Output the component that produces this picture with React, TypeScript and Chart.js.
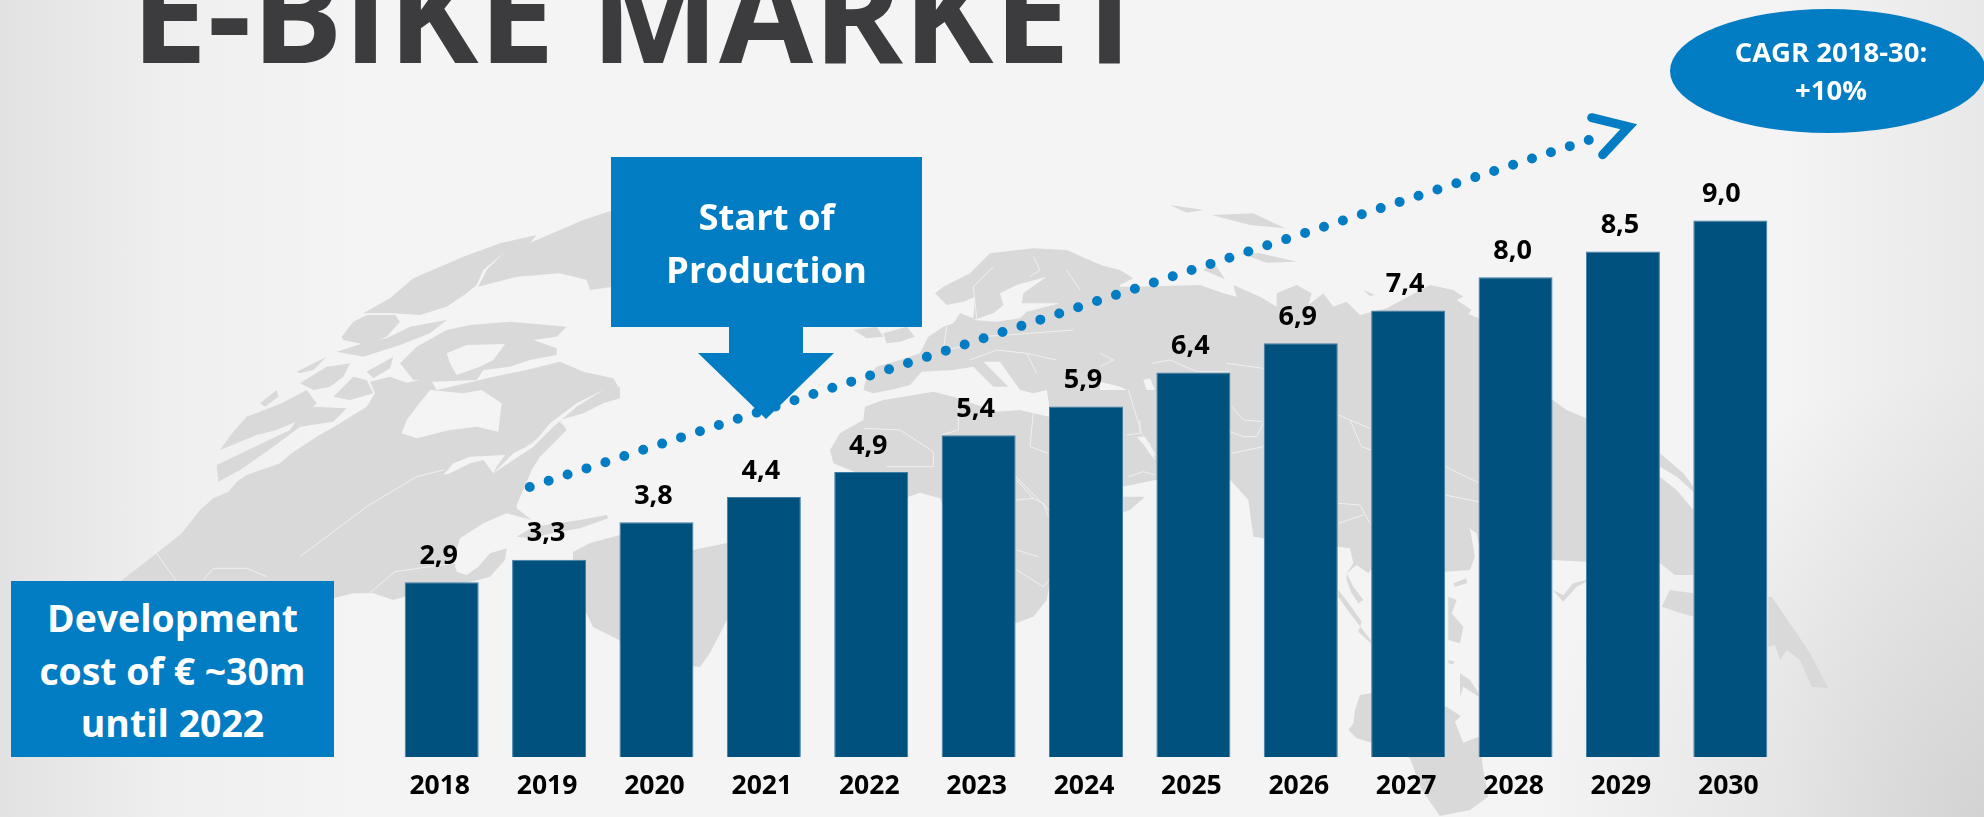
import React, { useEffect, useRef } from "react";
import { Chart, registerables } from "chart.js";

Chart.register(...registerables);

const years = ["2018","2019","2020","2021","2022","2023","2024","2025","2026","2027","2028","2029","2030"];
// Printed labels, and the bar heights as they are actually drawn in the picture.
const valueLabels = ["2,9","3,3","3,8","4,4","4,9","5,4","5,9","6,4","6,9","7,4","8,0","8,5","9,0"];
const barHeights = [2.93,3.31,3.94,4.36,4.78,5.40,5.88,6.45,6.94,7.49,8.05,8.48,9.0];
const trendLine = [{ x: 0.82, y: 4.53 }, { x: 10.83, y: 10.44 }];
const FONT = '"Open Sans", sans-serif';
const BLUE = "#027cc2";
const BAR = "#00517e";
const LAND = "#d9d9d9";
const SEA = "#f4f4f4";

type P = number[];
const z = (ox: number, oy: number, a: P[]) => a.map(([x, y]) => [ox + x / 3, oy + y / 3]);
const Z4 = (a: P[]) => z(100, 190, a);
const Z5 = (a: P[]) => z(600, 190, a);
const Z6 = (a: P[]) => z(1100, 190, a);
const Z7 = (a: P[]) => z(1400, 420, a);
const Z8 = (a: P[]) => z(700, 420, a);
const Z9 = (a: P[]) => z(100, 500, a);
const Z10 = (a: P[]) => z(1120, 480, a);

const oldWorld = [
  ...Z5([[790,600],[800,560],[830,530],[900,510],[960,490],[985,440],[1030,410],[1060,400],[1080,370],[1120,385],[1125,320],[1090,335],[1040,345],[1005,310],[1030,290],[1110,250],[1170,190],[1300,175],[1400,180],[1480,215],[1560,250]]),
  ...Z6([[60,290],[110,290],[300,285],[370,310],[410,320],[400,285],[480,320],[530,350],[530,310],[590,285],[635,310],[625,345],[670,310],[700,350],[740,335],[780,375],[860,355],[990,285],[1060,300],[1090,320],[1070,330],[1115,360],[1105,372],[1136,385],[1200,500],[1358,630],[1400,660],[1458,685]]),
  ...Z7([[780,170],[830,210],[880,270],[880,465],[825,465],[780,430],[558,425],[458,420]]),
  ...Z10([[1076,190],[1050,145],[1065,230],[1050,270],[975,275],[860,300],[752,270],[745,280],[710,255],[680,280],[700,250],[690,205],[655,200],[540,250],[430,175],[400,170],[385,60],[331,0]]),
  ...Z8([[1365,180],[1268,200],[1150,400],[1047,500],[1040,540],[1000,590],[947,610],[850,500],[720,235],[660,218],[625,230],[500,170],[400,130],[390,90],[420,40],[490,0]]),
  ...Z5([[795,650],[850,630],[1000,605],[1060,620],[1190,665],[1260,660],[1347,680],[1347,640],[1340,600],[1300,610],[1260,600],[1200,515],[1150,515],[1225,590],[1180,590],[1120,530],[1060,540],[965,545],[930,585],[870,600],[820,610]]),
];

const northAmerica = [
  ...Z4([[-200,1400],[60,1175],[170,1090],[245,1030],[300,960],[340,925],[385,905],[410,875],[440,855],[540,820],[575,790],[650,740],[720,700],[800,650],[825,610],[810,575],[870,560],[920,578],[990,565],[1010,600],[1140,570],[1180,560],[1280,540],[1380,515],[1450,545],[1540,565],[1555,590],[1510,640],[1450,670],[1380,690],[1400,720],[1320,800],[1295,840],[1250,945]]),
  ...Z9([[1250,25],[1295,60],[1220,40],[1150,70],[1080,115],[1060,180],[1070,215],[1100,225],[1135,200],[1170,160],[1220,145],[1215,180],[1170,230],[1135,240],[913,290],[880,300],[820,280],[760,280],[700,295],[500,300]]),
];

const otherLand = [
  // Greenland
  Z4([[1135,290],[1250,260],[1380,250],[1460,270],[1470,300],[1540,290],[1540,60],[1450,90],[1310,150],[1210,190],[1160,240]]),
  // Arctic islands
  Z4([[790,370],[870,325],[940,265],[1090,200],[1200,160],[1310,135],[1280,170],[1210,190],[1150,240],[1130,285],[1100,310],[1040,350],[960,375],[880,370]]),
  Z4([[900,520],[950,470],[1040,420],[1110,405],[1230,395],[1400,410],[1370,440],[1300,450],[1370,475],[1370,495],[1290,510],[1230,530],[1150,540],[1130,570],[1000,575],[940,570]]),
  Z4([[725,440],[760,395],[800,375],[885,375],[900,395],[860,440],[800,465],[730,450]]),
  Z4([[710,485],[790,460],[860,445],[930,410],[1040,390],[990,430],[900,465],[790,500]]),
  Z4([[800,545],[880,500],[870,535],[820,565]]),
  Z4([[590,545],[680,500],[640,540],[600,550]]),
  Z4([[600,580],[680,530],[750,520],[730,560],[690,590],[640,600]]),
  Z4([[700,620],[760,560],[800,570],[820,610],[750,630]]),
  Z4([[480,640],[530,600],[535,620],[495,650]]),
  Z4([[360,780],[400,725],[440,680],[545,640],[620,600],[650,640],[600,690],[530,720],[470,735]]),
  Z4([[350,825],[455,775],[570,720],[590,690],[640,650],[740,655],[700,695],[600,710],[520,770],[420,840],[355,875]]),
  // Newfoundland and isles
  Z4([[1510,640],[1530,600],[1560,590],[1560,625]]),
  Z9([[1250,110],[1300,80],[1440,60],[1520,45],[1525,55],[1440,85],[1380,95],[1290,115]]),
  // South America
  [[573,552],[590,543],[620,535],[693,550],[727,543],[727,620],[710,653],[700,667],[640,660],[619,640],[593,627],[580,600],[573,575]],
  // British Isles
  Z5([[760,420],[830,410],[850,440],[800,445]]),
  Z5([[850,430],[920,410],[945,440],[900,455],[860,460]]),
  // Arctic Eurasia
  Z6([[0,225],[60,240],[100,265],[60,285],[0,260]]),
  Z6([[310,240],[340,215],[375,268],[345,255]]),
  Z6([[420,190],[480,190],[590,215],[500,218]]),
  Z6([[210,45],[310,60],[260,68]]),
  Z6([[335,75],[460,70],[555,115],[450,105]]),
  Z6([[790,300],[825,315],[810,318]]),
  // Madagascar-like and Pacific isles
  Z10([[0,50],[75,50],[30,90],[0,100]]),
  Z10([[752,640],[720,645],[705,690],[700,730],[685,750],[710,775],[800,800],[870,835],[905,930],[960,1008],[1050,990],[1105,950],[1090,870],[1076,770],[1030,788],[1005,725],[1022,708],[980,680],[850,640]]),
  Z10([[655,330],[690,375],[725,425],[715,455],[752,490],[752,480],[690,400],[655,350]]),
  Z10([[680,280],[700,320],[730,360],[715,370],[695,340],[680,300]]),
  Z10([[1000,310],[1040,295],[1040,310],[1005,320]]),
  Z10([[985,350],[1010,360],[995,400],[1030,440],[1020,490],[985,480],[985,430]]),
  Z10([[985,540],[1005,545],[1000,553],[985,550]]),
  Z10([[1020,580],[1050,600],[1076,640],[1076,650],[1030,620],[1020,650]]),
  Z7([[458,510],[490,545],[530,500],[558,485],[558,480],[520,490],[490,525]]),
  Z7([[785,560],[810,510],[880,520],[880,590],[830,575]]),
  Z7([[780,100],[850,160],[880,200],[880,215],[830,170],[780,140]]),
  Z7([[1105,530],[1115,530],[1190,640],[1230,700],[1285,805],[1235,800],[1200,720],[1160,690],[1140,720],[1125,675],[1105,680]]),
];

const waters = [
  Z4([[905,730],[920,690],[950,650],[990,600],[1090,610],[1145,600],[1205,640],[1195,725],[1130,710],[1050,720],[950,745]]),
  Z4([[1030,855],[1060,820],[1110,800],[1215,795],[1190,830],[1180,850],[1150,810],[1110,820],[1050,850]]),
  Z4([[1180,850],[1240,790],[1300,760],[1350,700],[1430,640],[1510,600],[1430,650],[1360,710],[1300,770],[1240,810]]),
  Z4([[1040,490],[1100,465],[1215,462],[1180,510],[1140,530],[1070,555],[1050,520]]),
  Z5([[1120,390],[1180,370],[1210,345],[1200,310],[1250,285],[1340,260],[1270,310],[1265,340],[1380,340],[1280,365],[1260,385],[1190,395]]),
  Z6([[0,575],[60,590],[80,600],[0,600]]),
  Z6([[130,570],[150,565],[165,600],[140,600]]),
  Z8([[1320,50],[1350,70],[1365,120],[1345,95]]),
  Z6([[110,740],[135,740],[170,800],[150,785]]),
  Z6([[1108,1015],[1130,1030],[1136,1060],[1120,1050]]),
];

const borders = [
  Z4([[170,1090],[230,1175]]), Z4([[600,1100],[800,950],[950,860],[1030,840]]),
  Z4([[1280,770],[1350,720],[1370,690],[1400,710]]), Z9([[310,240],[340,205],[440,205],[500,230]]),
  Z9([[790,295],[885,215],[1060,190]]),
  Z5([[790,715],[900,720],[1000,785],[1000,830]]), Z5([[1075,620],[1075,720],[1024,735]]),
  Z5([[1300,665],[1290,770],[1345,790]]), Z5([[1247,860],[1347,960]]), Z5([[860,830],[1000,830]]),
  Z8([[950,180],[1000,235],[950,240]]), Z8([[1000,235],[1030,250],[1045,290]]),
  Z8([[950,390],[1015,410]]), Z8([[950,450],[1030,500],[1047,480]]), Z8([[1280,45],[1320,40],[1320,0]]),
  Z6([[155,520],[210,510],[290,545],[390,545]]), Z6([[380,520],[490,535]]),
  Z6([[395,650],[430,690],[490,695]]), Z6([[390,725],[430,740],[470,740],[490,700]]),
  Z6([[395,790],[490,770]]), Z6([[715,675],[750,690],[810,715]]), Z6([[750,690],[785,770],[813,780]]),
  Z6([[1036,830],[1135,878]]), Z6([[1036,915],[1135,935]]), Z6([[715,940],[780,945],[810,1000]]),
  Z6([[715,1000],[790,975]]), Z6([[0,490],[40,510],[0,530]]), Z6([[85,600],[125,730],[165,790]]),
  Z6([[85,860],[130,845],[165,855]]),
  Z5([[1180,230],[1120,290],[1130,385]]), Z5([[1300,200],[1320,240],[1290,260]]), Z5([[1400,240],[1440,300]]),
  Z5([[1040,410],[1030,480],[1090,470]]), Z5([[1150,440],[1290,430],[1420,420]]),
  Z5([[1110,510],[1190,480],[1280,490],[1370,510]]), Z5([[1280,490],[1310,550]]),
];

function tracePath(ctx: CanvasRenderingContext2D, pts: number[][]) {
  ctx.beginPath();
  pts.forEach(([x, y], i) => (i ? ctx.lineTo(x, y) : ctx.moveTo(x, y)));
}

const mapPlugin = {
  id: "worldMap",
  beforeDraw(chart: any) {
    const ctx = chart.ctx as CanvasRenderingContext2D;
    ctx.save();
    ctx.lineJoin = "round";
    ctx.fillStyle = LAND;
    [oldWorld, northAmerica, ...otherLand].forEach((p) => { tracePath(ctx, p); ctx.closePath(); ctx.fill(); });
    ctx.fillStyle = SEA;
    waters.forEach((p) => { tracePath(ctx, p); ctx.closePath(); ctx.fill(); });
    ctx.strokeStyle = "#f0f0f0";
    ctx.lineWidth = 1;
    borders.forEach((p) => { tracePath(ctx, p); ctx.stroke(); });
    ctx.restore();
  },
};

const labelPlugin = {
  id: "barLabels",
  afterDatasetsDraw(chart: any) {
    const ctx = chart.ctx as CanvasRenderingContext2D;
    const meta = chart.getDatasetMeta(0);
    ctx.save();
    ctx.font = `bold 27px ${FONT}`;
    ctx.fillStyle = "#000";
    ctx.textAlign = "center";
    ctx.textBaseline = "middle";
    meta.data.forEach((el: any, i: number) => {
      ctx.fillText(valueLabels[i], el.x + (i === 12 ? -9 : -3), el.y - 26);
    });
    // arrow head of the trend line
    const m = chart.getDatasetMeta(1).data[1];
    ctx.strokeStyle = BLUE;
    ctx.lineWidth = 9;
    ctx.lineCap = "round";
    ctx.lineJoin = "miter";
    ctx.beginPath();
    ctx.moveTo(m.x - 13, m.y - 17);
    ctx.lineTo(m.x + 24, m.y - 8);
    ctx.lineTo(m.x - 2, m.y + 20);
    ctx.stroke();
    ctx.restore();
  },
};

const textBase: React.CSSProperties = {
  position: "absolute",
  fontFamily: FONT,
  fontWeight: 700,
  color: "#fff",
  textAlign: "center",
  whiteSpace: "nowrap",
};

export default function App() {
  const ref = useRef<HTMLCanvasElement>(null);
  useEffect(() => {
    document.body.style.margin = "0";
    const chart = new Chart(ref.current!, {
      data: {
        labels: years,
        datasets: [
          {
            type: "bar",
            label: "E-bike market",
            data: barHeights,
            backgroundColor: BAR,
            borderColor: "#3f7fa6",
            borderWidth: 1,
            categoryPercentage: 1,
            barPercentage: 0.689,
            grouped: false,
            order: 1,
          },
          {
            type: "line",
            label: "CAGR",
            data: trendLine,
            xAxisID: "xTrend",
            borderColor: BLUE,
            borderWidth: 10,
            borderDash: [0, 19.9],
            borderCapStyle: "round",
            pointRadius: 0,
            tension: 0,
            order: 0,
          },
        ],
      } as any,
      options: {
        responsive: false,
        animation: false,
        layout: { padding: { left: 388, right: 200, top: 0, bottom: 0 } },
        plugins: { legend: { display: false }, tooltip: { enabled: false } },
        scales: {
          x: {
            grid: { display: false },
            border: { display: false },
            afterFit: (s: any) => { s.height = 60; },
            ticks: {
              color: "#000",
              padding: 6,
              labelOffset: -2,
              maxRotation: 0,
              autoSkip: false,
              font: { family: FONT, size: 26.5, weight: "bold" },
            },
          },
          xTrend: { type: "linear", display: false, min: -0.5, max: 12.5 },
          y: { display: false, min: 0, max: 12.7 },
        },
      } as any,
      plugins: [mapPlugin, labelPlugin],
    });
    return () => chart.destroy();
  }, []);

  return (
    <div
      style={{
        position: "absolute",
        left: 0,
        top: 0,
        width: 1984,
        height: 817,
        overflow: "hidden",
        background:
          "radial-gradient(circle 450px at 100% 100%, rgba(190,190,190,.5), rgba(190,190,190,0)), linear-gradient(90deg, #e2e2e2 0, #efefef 170px, #f4f4f4 360px, #f4f4f4 1780px, #e8e8e8 1984px)",
      }}
    >
      <canvas ref={ref} width={1984} height={817} style={{ position: "absolute", left: 0, top: 0, display: "block" }} />
      <div
        style={{
          ...textBase,
          left: 131,
          top: -85,
          fontSize: 136.4,
          lineHeight: "190px",
          color: "#3c3c3e",
          textAlign: "left",
        }}
      >
        E-BIKE MARKET
      </div>

      <div
        style={{
          position: "absolute",
          left: 611,
          top: 157,
          width: 311,
          height: 262,
          background: BLUE,
          clipPath:
            "polygon(0 0, 100% 0, 100% 170px, 192px 170px, 192px 196px, 223px 196px, 155px 262px, 87px 196px, 118px 196px, 118px 170px, 0 170px)",
        }}
      />
      <div style={{ ...textBase, left: 611, width: 311, top: 190, fontSize: 36.4, lineHeight: "53px" }}>
        Start of
        <br />
        Production
      </div>

      <div
        style={{
          position: "absolute",
          left: 1670,
          top: 9,
          width: 316,
          height: 124,
          borderRadius: "50%",
          background: BLUE,
        }}
      />
      <div style={{ ...textBase, left: 1701, width: 260, top: 33, fontSize: 27.5, lineHeight: "38px" }}>
        CAGR 2018-30:
        <br />
        +10%
      </div>

      <div style={{ position: "absolute", left: 11, top: 581, width: 323, height: 176, background: BLUE }} />
      <div style={{ ...textBase, left: 11, width: 323, top: 592, fontSize: 37.4, lineHeight: "52.5px" }}>
        Development
        <br />
        cost of € ~30m
        <br />
        until 2022
      </div>
    </div>
  );
}
